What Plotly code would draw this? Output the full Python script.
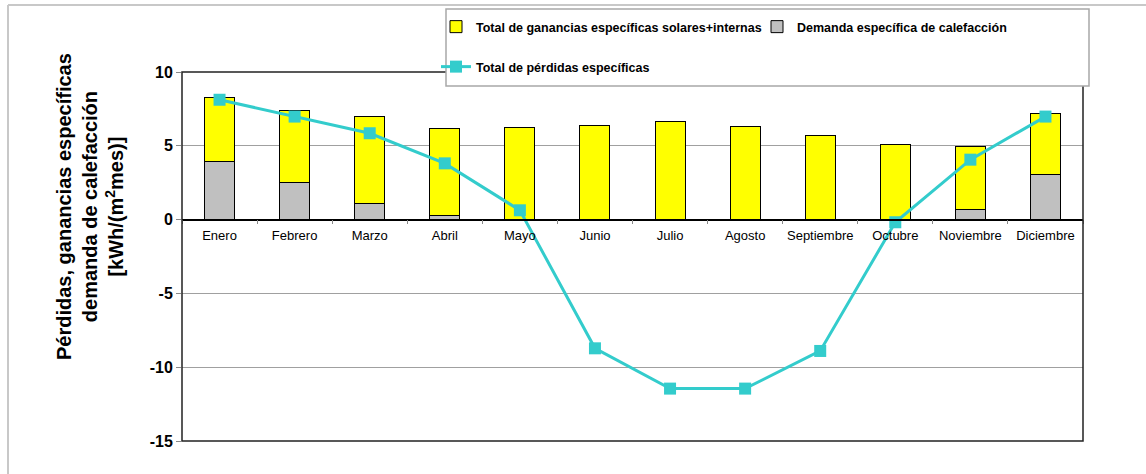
import plotly.graph_objects as go

meses = ["Enero", "Febrero", "Marzo", "Abril", "Mayo", "Junio", "Julio",
         "Agosto", "Septiembre", "Octubre", "Noviembre", "Diciembre"]
demanda = [3.92, 2.54, 1.09, 0.27, 0.0, 0.0, 0.0, 0.0, 0.0, 0.0, 0.70, 3.04]
ganancias = [4.36, 4.83, 5.89, 5.90, 6.26, 6.37, 6.67, 6.30, 5.69, 5.08, 4.24, 4.15]
perdidas = [8.12, 6.98, 5.85, 3.81, 0.63, -8.72, -11.45, -11.45, -8.90, -0.18, 4.06, 6.98]
y_ticks = [10, 5, 0, -5, -10, -15]

W, H = 1146, 474
L, R, T, B = 182, 63, 72, 33
PW, PH = W - L - R, H - T - B


def px_x(p):
    return (p - L) / PW


def px_y(p):
    return (H - B - p) / PH


FONT = "Arial, 'Liberation Sans', sans-serif"

fig = go.Figure()
fig.add_trace(go.Bar(
    x=meses, y=demanda, name="Demanda específica de calefacción",
    marker=dict(color="#C0C0C0", line=dict(color="#000000", width=1)),
    legend="legend", legendrank=2,
))
fig.add_trace(go.Bar(
    x=meses, y=ganancias, name="Total de ganancias específicas solares+internas",
    marker=dict(color="#FFFF00", line=dict(color="#000000", width=1)),
    legend="legend", legendrank=1,
))
fig.add_trace(go.Scatter(
    x=meses, y=perdidas, name="Total de pérdidas específicas",
    mode="lines+markers",
    line=dict(color="#33CCCC", width=3),
    marker=dict(symbol="square", size=12, color="#33CCCC"),
    legend="legend2",
))

shapes = [
    # outer chart border (top and left)
    dict(type="line", xref="paper", yref="paper", x0=px_x(8), x1=px_x(W), y0=px_y(5), y1=px_y(5),
         line=dict(color="#C8C8C8", width=2), layer="above"),
    dict(type="line", xref="paper", yref="paper", x0=px_x(8), x1=px_x(8), y0=px_y(5), y1=px_y(H),
         line=dict(color="#C8C8C8", width=2), layer="above"),
    # plot frame
    dict(type="rect", xref="paper", yref="paper", x0=0, x1=1, y0=0, y1=1,
         line=dict(color="#222222", width=1.5), layer="above"),
    # legend box
    dict(type="rect", xref="paper", yref="paper", x0=px_x(446), x1=px_x(1089),
         y0=px_y(86), y1=px_y(9), fillcolor="#FFFFFF",
         line=dict(color="#A8A8A8", width=1.5), layer="above"),
]

fig.update_layout(
    width=W, height=H,
    margin=dict(l=L, r=R, t=T, b=B, autoexpand=False),
    paper_bgcolor="#FFFFFF", plot_bgcolor="#FFFFFF",
    barmode="stack", bargap=0.6,
    font=dict(family=FONT, color="#000000"),
    shapes=shapes,
    legend=dict(
        orientation="h", x=px_x(436), y=px_y(12), xanchor="left", yanchor="top",
        bgcolor="rgba(0,0,0,0)", borderwidth=0, entrywidth=276,
        font=dict(family=FONT, size=12.5, weight="bold", color="#000000"),
        traceorder="normal",
    ),
    legend2=dict(
        orientation="h", x=px_x(436), y=px_y(52), xanchor="left", yanchor="top",
        bgcolor="rgba(0,0,0,0)", borderwidth=0,
        font=dict(family=FONT, size=12.5, weight="bold", color="#000000"),
    ),
    xaxis=dict(
        type="category", anchor="free", position=(0 - (-15)) / 25,
        range=[-0.5, len(meses) - 0.5], autorange=False,
        showline=True, linecolor="#000000", linewidth=1.5,
        ticks="outside", tickson="boundaries", ticklen=4, tickcolor="#888888",
        showgrid=False, zeroline=False, tickangle=0, ticklabelstandoff=4,
        tickfont=dict(family=FONT, size=13, color="#000000"),
    ),
    yaxis=dict(
        range=[-15, 10], tickvals=y_ticks, ticktext=[str(v) for v in y_ticks],
        showgrid=True, gridcolor="#A0A0A0", gridwidth=1,
        zeroline=True, zerolinecolor="#000000", zerolinewidth=1.5,
        showline=False, ticks="outside", ticklen=5, tickcolor="#888888",
        tickfont=dict(family=FONT, size=16, weight="bold", color="#000000"),
    ),
    annotations=[dict(
        xref="paper", yref="paper", x=px_x(90), y=px_y(207),
        xanchor="center", yanchor="middle", textangle=-90, showarrow=False,
        text="Pérdidas, ganancias específicas<br>demanda de calefacción<br>[kWh/(m<sup>2</sup>mes)]",
        font=dict(family=FONT, size=20, weight="bold", color="#000000"),
    )],
    showlegend=True,
)

fig.write_html("out.html", config={"displayModeBar": False},
               post_script="document.body.style.margin='0';document.body.style.padding='0';")
